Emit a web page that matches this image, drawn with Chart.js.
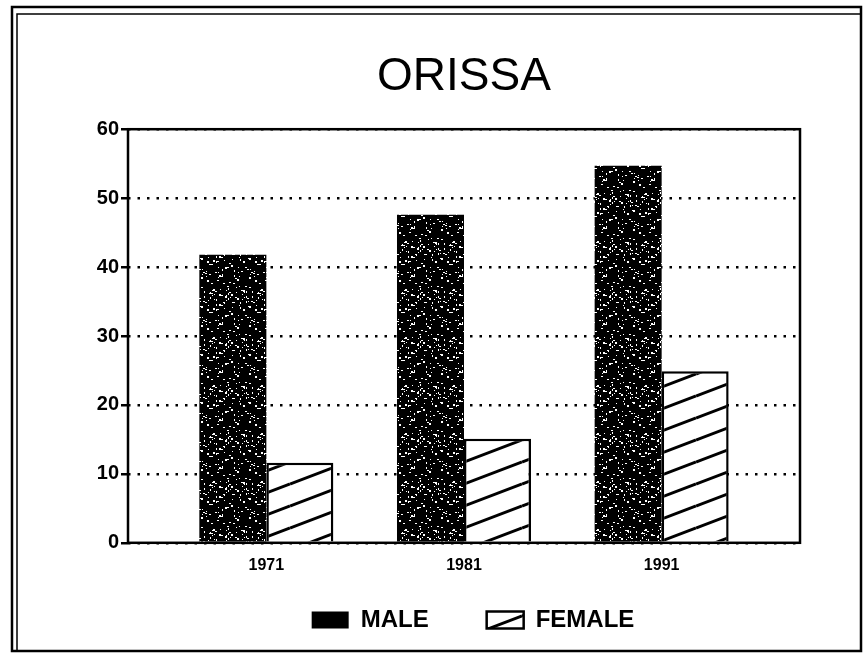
<!DOCTYPE html>
<html>
<head>
<meta charset="utf-8">
<title>ORISSA</title>
<script src="https://cdn.jsdelivr.net/npm/chart.js@4.4.1/dist/chart.umd.min.js"></script>
<style>
  body { margin: 0; background: #fff; }
  canvas { display: block; }
</style>
</head>
<body>
<canvas id="orissa-chart" width="864" height="670"></canvas>
<script>
const years = [1971, 1981, 1991]
const maleValues = [41.8, 47.6, 54.7]
const femaleValues = [11.6, 15.1, 24.9]
const yTicks = [0, 10, 20, 30, 40, 50, 60]
const seriesLabels = ['MALE', 'FEMALE']
const chartTitle = 'ORISSA'

const font = "'Liberation Sans', Arial, sans-serif"

// black fill with a few white specks, like the scanned stipple
const makeSpeckle = () => {
    const c = document.createElement('canvas')
    c.width = 48
    c.height = 48
    const g = c.getContext('2d')
    g.fillStyle = '#000'
    g.fillRect(0, 0, 48, 48)
    g.fillStyle = '#fff'
    let s = 7
    for (let i = 0; i < 110; i++) {
        s = (s * 73 + 41) % 2304
        g.fillRect(s % 48, Math.floor(s / 48), 1 + i % 2, 1 + (i % 3 === 0 ? 1 : 0))
    }
    return g.createPattern(c, 'repeat')
}

// white with diagonal lines rising to the right
const makeHatch = () => {
    const c = document.createElement('canvas')
    c.width = 58
    c.height = 22
    const g = c.getContext('2d')
    g.fillStyle = '#fff'
    g.fillRect(0, 0, 58, 22)
    g.strokeStyle = '#000'
    g.lineWidth = 3
    ;[-22, 0, 22].forEach(d => {
        g.beginPath()
        g.moveTo(0, 22 + d)
        g.lineTo(58, d)
        g.stroke()
    })
    return g.createPattern(c, 'repeat')
}

const speckle = makeSpeckle()
const hatch = makeHatch()

const frames = {
    id: 'frames',
    beforeDraw: (chart) => {
        const ctx = chart.ctx
        ctx.save()
        ctx.fillStyle = '#fff'
        ctx.fillRect(0, 0, chart.width, chart.height)
        ctx.strokeStyle = '#000'
        ctx.lineWidth = 2.5
        ctx.strokeRect(12, 7, 849, 644)
        ctx.lineWidth = 1.5
        ctx.beginPath()
        ctx.moveTo(17, 651)
        ctx.lineTo(17, 14)
        ctx.lineTo(861, 14)
        ctx.stroke()
        ctx.restore()
    },
    afterDatasetsDraw: (chart) => {
        const { left, top, width, height } = chart.chartArea
        const ctx = chart.ctx
        ctx.save()
        ctx.strokeStyle = '#000'
        ctx.lineWidth = 2.5
        ctx.strokeRect(left, top, width, height)
        ctx.restore()
    }
}

// the legend keeps its wide item spacing but sits higher and a bit to the right
const legendShift = {
    id: 'legendShift',
    afterLayout: (chart) => {
        const lg = chart.legend
        lg.top -= 38
        lg.bottom -= 38
        lg.left += 9
        lg.right += 9
    }
}

new Chart(document.querySelector('#orissa-chart'), {
    type: 'bar',
    data: {
        datasets: [{
            label: seriesLabels[0],
            data: years.map((x, i) => ({ x: x, y: maleValues[i] })),
            backgroundColor: speckle,
            borderWidth: 0
        }, {
            label: seriesLabels[1],
            data: years.map((x, i) => ({ x: x, y: femaleValues[i] })),
            backgroundColor: hatch,
            borderColor: '#000',
            borderWidth: 2.5,
            borderSkipped: 'bottom'
        }]
    },
    options: {
        responsive: false,
        devicePixelRatio: 1,
        animation: false,
        categoryPercentage: 0.678,
        barPercentage: 1,
        layout: { padding: { top: 10, bottom: 2, left: 20, right: 64 } },
        scales: {
            x: {
                type: 'linear',
                min: 1964,
                max: 1998,
                offset: false,
                afterBuildTicks: (scale) => { scale.ticks = years.map(v => ({ value: v })) },
                grid: { display: false, drawTicks: false },
                border: { display: false },
                ticks: {
                    autoSkip: false,
                    maxRotation: 0,
                    padding: 13,
                    color: '#000',
                    font: { family: font, size: 16, weight: 'bold' },
                    callback: (v) => String(v)
                }
            },
            y: {
                min: 0,
                max: 60,
                afterBuildTicks: (scale) => { scale.ticks = yTicks.map(v => ({ value: v })) },
                afterFit: (scale) => { scale.width = 108 },
                grid: {
                    color: '#000',
                    lineWidth: 2.5,
                    borderDash: [2.5, 7],
                    tickLength: 7,
                    tickWidth: 2.5,
                    tickColor: '#000',
                    tickBorderDash: []
                },
                border: { display: false, dash: [2.5, 7] },
                ticks: {
                    padding: 2,
                    color: '#000',
                    font: { family: font, size: 20, weight: 'bold' }
                }
            }
        },
        plugins: {
            title: {
                display: true,
                text: chartTitle,
                fullSize: false,
                color: '#000',
                font: { family: font, size: 46, weight: 'normal' },
                padding: { top: 40, bottom: 24 }
            },
            legend: {
                position: 'bottom',
                fullSize: false,
                maxHeight: 80,
                labels: {
                    boxWidth: 37,
                    boxHeight: 17,
                    padding: 58,
                    color: '#000',
                    font: { family: font, size: 24, weight: 'bold' },
                    useBorderRadius: true,
                    borderRadius: 3,
                    generateLabels: (chart) => chart.data.datasets.map((ds, i) => ({
                        text: ds.label,
                        fillStyle: i === 0 ? '#000' : hatch,
                        strokeStyle: '#000',
                        lineWidth: i === 0 ? 0 : 2.5,
                        datasetIndex: i,
                        hidden: false
                    }))
                }
            },
            tooltip: { enabled: false }
        }
    },
    plugins: [frames, legendShift]
})
</script>
</body>
</html>
